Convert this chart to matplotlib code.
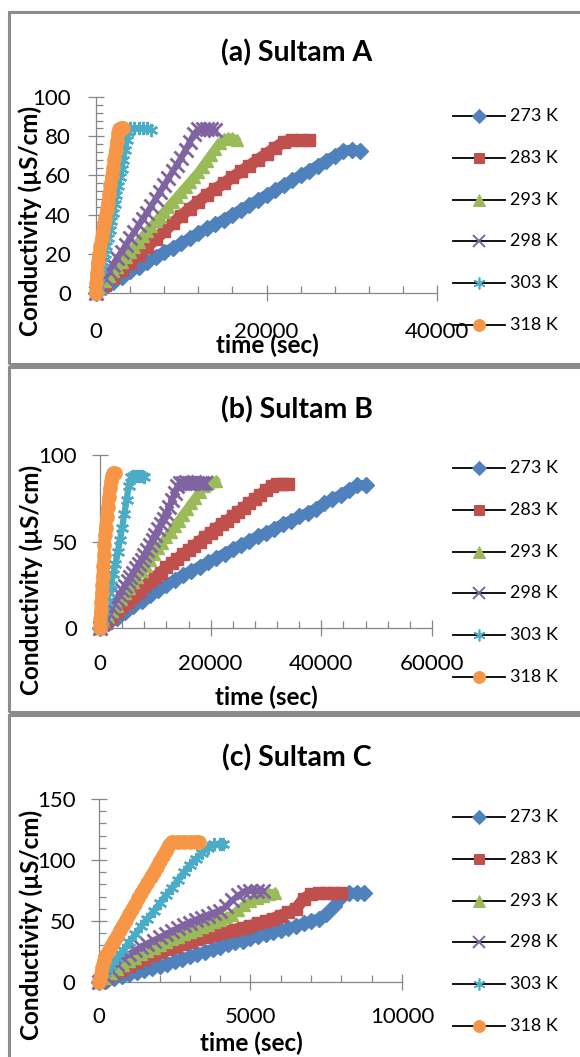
import matplotlib
matplotlib.use("Agg")
import matplotlib.pyplot as plt
from matplotlib.lines import Line2D
from matplotlib.patches import Rectangle
from matplotlib.ticker import MultipleLocator

plt.rcParams['font.family'] = ['Lato', 'DejaVu Sans']

labels = ['273 K', '283 K', '293 K', '298 K', '303 K', '318 K']

# (a) Sultam A
a273_t = [0, 1000, 2000, 3000, 4000, 5000, 6000, 7000, 8000, 9000, 10000, 11000, 12000, 13000, 14000, 15000,
          16000, 17000, 18000, 19000, 20000, 21000, 22000, 23000, 24000, 25000, 26000, 27000, 28000, 29000, 30000, 31000]
a273_c = [0, 3, 5.5, 8, 11, 13.5, 16, 18.5, 21, 23, 25.5, 28, 30.5, 33, 35, 37.5,
          40, 42.5, 45, 47.5, 50, 52.5, 55, 57.5, 60, 62.5, 65, 67.5, 70, 72.5, 73, 72.5]
a283_t = [0, 1000, 2000, 3000, 4000, 5000, 6000, 7000, 8000, 9000, 10000, 11000, 12000, 13000,
          14000, 15000, 16000, 17000, 18000, 19000, 20000, 21000, 22000, 23000, 24000, 25000]
a283_c = [0, 4, 8, 11.5, 15.5, 19.5, 23.5, 27.5, 31.5, 35.5, 39.5, 43, 46.5, 50,
          53, 56, 59, 62, 65, 68, 71, 74, 77, 78, 78, 78]
a293_t = [0, 500, 1000, 1500, 2000, 2500, 3000, 3500, 4000, 4500, 5000, 5500, 6000, 6500, 7000, 7500, 8000,
          8500, 9000, 9500, 10000, 10500, 11000, 11500, 12000, 12500, 13000, 13500, 14000, 14500, 15000, 15500, 16000, 16500]
a293_c = [0, 3, 6, 8.5, 11, 13.5, 16, 18.5, 21, 23.5, 26, 29, 31.5, 34, 36.5, 39, 41.5,
          44, 46.5, 49, 51.5, 54, 56.5, 59, 61.5, 64.5, 67.5, 70.5, 73.5, 76.5, 78.5, 79, 79, 78]
a298_t = [0, 500, 1000, 1500, 2000, 2500, 3000, 3500, 4000, 4500, 5000, 5500, 6000, 6500, 7000,
          7500, 8000, 8500, 9000, 9500, 10000, 10500, 11000, 11500, 12000, 12500, 13000, 13500, 14000]
a298_c = [0, 4, 7.5, 11, 14.5, 18, 21, 24.5, 28, 31, 34.5, 38, 41, 44.5, 48,
          51.5, 55, 58.5, 62, 65.5, 69, 73, 77, 81, 83.5, 83.5, 83.5, 83.5, 83]
a303_t = [0, 200, 400, 600, 800, 1000, 1200, 1400, 1600, 1800, 2000, 2200, 2400,
          2600, 2800, 3000, 3200, 3400, 3600, 3800, 4000, 4500, 5000, 5500, 6000, 6500]
a303_c = [0, 4, 8, 12, 16, 20, 24, 28, 32, 36.5, 41, 45.5, 50,
          54.5, 59, 63.5, 68, 73, 78, 82, 84, 84, 84, 84, 84, 83]
a318_t = [0, 0, 100, 200, 350, 500, 650, 800, 950, 1100, 1250, 1400, 1550, 1700, 1850, 2000,
          2150, 2300, 2450, 2600, 2750, 2900, 3050, 3200]
a318_c = [0, 5, 10, 16, 20, 24, 28, 31.5, 35, 38.5, 42.5, 46, 50.5, 55, 59.5, 64,
          68.5, 73, 77.5, 81.5, 83.5, 84, 84, 84]

# (b) Sultam B
b273_t = [0, 1500, 3000, 4500, 6000, 7500, 9000, 10500, 12000, 13500, 15000, 16500, 18000, 19500, 21000, 22500, 24000,
          25500, 27000, 28500, 30000, 31500, 33000, 34500, 36000, 37500, 39000, 40500, 42000, 43500, 45000, 46500, 48000]
b273_c = [0, 3, 6, 9.5, 12.5, 15.5, 19, 22, 25, 28, 30.5, 33, 35.5, 38, 40.5, 43, 45.5,
          48, 50.5, 53, 55, 57.5, 60, 62, 64.5, 66.5, 69, 72, 74.5, 77, 80, 82.5, 82.5]
b283_t = [0, 1000, 2000, 3000, 4000, 5000, 6000, 7000, 8000, 9000, 10000, 11000, 12000, 13000, 14000, 15000, 16000, 17000,
          18000, 19000, 20000, 21000, 22000, 23000, 24000, 25000, 26000, 27000, 28000, 29000, 30000, 31000, 32000, 33000, 34000]
b283_c = [0, 3, 6, 9, 12, 15, 18, 21, 24, 27, 29.5, 32, 35, 37.5, 40, 42.5, 45, 47.5,
          50, 52.5, 55, 57.5, 60, 62, 64.5, 67, 69.5, 72, 74.5, 77, 79.5, 82, 83, 83, 83]
b293_t = [0, 750, 1500, 2250, 3000, 3750, 4500, 5250, 6000, 6750, 7500, 8250, 9000, 9750, 10500,
          11250, 12000, 12750, 13500, 14250, 15000, 15750, 16500, 17250, 18000, 18750, 19500, 20250, 21000]
b293_c = [0, 3, 6.5, 10, 13, 16.5, 20, 23, 26.5, 29.5, 33, 36, 39.5, 42.5, 46,
          49, 52.5, 55.5, 59, 62, 65.5, 68.5, 72, 75, 78.5, 82, 84, 85, 85]
b298_t = [0, 500, 1000, 1500, 2000, 2500, 3000, 3500, 4000, 4500, 5000, 5500, 6000, 6500, 7000, 7500, 8000, 8500, 9000, 9500,
          10000, 10500, 11000, 11500, 12000, 12500, 13000, 13500, 14000, 14500, 15000, 15500, 16000, 16500, 17000, 17500,
          18000, 18500, 19000]
b298_c = [0, 3, 6, 9, 12, 14.5, 17, 19.5, 22, 24.5, 27, 29.5, 32, 34.5, 37, 39.5, 42, 45, 48, 51,
          54, 57, 60, 63, 66.5, 70, 74, 78, 82, 84, 84, 84.5, 84, 84, 84.5, 84,
          84, 84, 84]
b303_t = [0, 400, 800, 1200, 1600, 2000, 2400, 2800, 3200, 3600, 4000, 4400, 4800, 5200, 5600, 6000, 6500, 7000, 7500, 8000]
b303_c = [0, 5, 10, 15, 20, 25, 31, 37, 44, 51, 58, 66, 74, 82, 87, 88, 88, 88, 88, 87.5]
b318_t = [0, 0, 100, 200, 300, 400, 500, 600, 700, 800, 900, 1000, 1200, 1400, 1600, 1800, 2000, 2200, 2400, 2700]
b318_c = [0, 5, 10, 15, 20, 25, 30, 36, 42, 48, 54, 58, 64, 70, 76, 81, 85, 88, 89.5, 89.5]

# (c) Sultam C
c273_t = [0, 250, 500, 750, 1000, 1250, 1500, 1750, 2000, 2250, 2500, 2750, 3000, 3250, 3500, 3750, 4000, 4250,
          4500, 4750, 5000, 5250, 5500, 5750, 6000, 6250, 6500, 6750, 7000, 7250, 7500, 7750, 8000, 8250, 8500, 8750]
c273_c = [0, 1.5, 3, 5, 6.5, 8, 10, 11.5, 13, 15, 17, 19, 21, 23, 25, 27, 29, 31,
          32.5, 34, 36, 37.5, 39, 41, 42.5, 44, 46, 48, 50, 52, 56, 62, 70, 73, 73, 73]
c283_t = [0, 250, 500, 750, 1000, 1250, 1500, 1750, 2000, 2250, 2500, 2750, 3000, 3250, 3500, 3750, 4000,
          4250, 4500, 4750, 5000, 5250, 5500, 5750, 6000, 6250, 6500, 6750, 7000, 7250, 7500, 7750, 8000]
c283_c = [0, 3.5, 7, 10, 13, 16, 19, 22, 25, 27, 29, 31, 33, 35, 37, 38.5, 40,
          41.5, 43, 44.5, 46, 48, 50, 52, 54.5, 57, 60, 68, 72, 73, 73, 73, 73]
c293_t = [0, 200, 400, 600, 800, 1000, 1200, 1400, 1600, 1800, 2000, 2200, 2400, 2600, 2800,
          3000, 3200, 3400, 3600, 3800, 4000, 4200, 4400, 4600, 4800, 5000, 5200, 5400, 5600, 5800]
c293_c = [0, 3.5, 7, 10.5, 14, 17, 20, 23, 25.5, 28, 30.5, 32.5, 35, 37, 39,
          41, 43, 45, 47, 49, 51, 53, 55, 59, 63, 66, 68.5, 70.5, 72, 73]
c298_t = [0, 200, 400, 600, 800, 1000, 1200, 1400, 1600, 1800, 2000, 2200, 2400, 2600,
          2800, 3000, 3200, 3400, 3600, 3800, 4000, 4200, 4400, 4600, 4800, 5000, 5200, 5400]
c298_c = [0, 5, 10, 15, 19.5, 23, 26, 29, 31.5, 34, 36.5, 39, 41.5, 44,
          46.5, 48.5, 50.5, 52.5, 54.5, 56.5, 58, 62, 67, 71, 74, 75, 75, 75]
c303_t = [0, 200, 400, 600, 800, 1000, 1200, 1400, 1600, 1800, 2000,
          2200, 2400, 2600, 2800, 3000, 3200, 3400, 3600, 3800, 4000, 4100]
c303_c = [0, 7, 13, 20, 26, 33, 39, 46, 52, 58, 64.5,
          71, 77, 83.5, 90, 96, 101, 106, 110, 113, 113, 113]
c318_t = [0, 50, 100, 150, 200, 300, 400, 500, 600, 700, 800, 900, 1000, 1100, 1200, 1300,
          1400, 1500, 1600, 1700, 1800, 1900, 2000, 2100, 2200, 2300, 2400, 2600, 2800, 3000, 3200, 3300]
c318_c = [0, 6, 12, 17, 21, 25, 29.5, 34, 38, 42.5, 47, 51, 55.5, 60, 64, 68.5,
          73, 77, 81.5, 86, 90, 94.5, 99, 103, 107.5, 112, 115, 115, 115, 115, 115, 115]

colors = ['#4F81BD', '#C0504D', '#9BBB59', '#8064A2', '#4BACC6', '#F79646']
markers = ['D', 's', '^', 'x', (6, 2, 0), 'o']
msizes = [8, 8, 9, 9.5, 9.5, 9.5]
medges = [1, 1, 1, 2, 1.7, 1]
# the readings are so close together in the original that the markers merge into a band
band_w = [7.5, 8.5, 6.5, 4.5, 4.5, 9]

W, H = 580, 1057


def fx(px):
    return px / W


def fy(py):
    return 1 - py / H


panels = [
    dict(title='(a) Sultam A', series=[(a273_t, a273_c), (a283_t, a283_c), (a293_t, a293_c),
                                       (a298_t, a298_c), (a303_t, a303_c), (a318_t, a318_c)],
         box=(96, 97, 437, 293), xmax=40000, xmaj=20000, xmin=4000, ymax=100, ymaj=20, ymin=4,
         ypad=12.5, xpad=15.5, frame=(12, 364), title_y=53, ylab=(30, 221), xlab=(267, 345), leg_y=116),
    dict(title='(b) Sultam B', series=[(b273_t, b273_c), (b283_t, b283_c), (b293_t, b293_c),
                                       (b298_t, b298_c), (b303_t, b303_c), (b318_t, b318_c)],
         box=(100, 455, 432, 628), xmax=60000, xmaj=20000, xmin=4000, ymax=100, ymaj=50, ymin=None,
         ypad=11, xpad=13.5, frame=(367, 712), title_y=410, ylab=(31, 580), xlab=(266, 697), leg_y=468),
    dict(title='(c) Sultam C', series=[(c273_t, c273_c), (c283_t, c283_c), (c293_t, c293_c),
                                       (c298_t, c298_c), (c303_t, c303_c), (c318_t, c318_c)],
         box=(99, 799, 402, 982), xmax=10000, xmaj=5000, xmin=1000, ymax=150, ymaj=50, ymin=10,
         ypad=11.5, xpad=12.5, frame=(715, 1075), title_y=758, ylab=(31, 925), xlab=(251, 1043), leg_y=817),
]

fig = plt.figure(figsize=(5.8, 10.57), dpi=100)
axis_grey = '#868686'

for p in panels:
    # grey frame round each chart
    top, bot = p['frame']
    fig.add_artist(Rectangle((fx(9), fy(bot)), fx(620) - fx(9), fy(top) - fy(bot),
                             transform=fig.transFigure, fill=False, ec='#8c8c8c', lw=2.2))

    l, t, r, b = p['box']
    ax = fig.add_axes([fx(l), fy(b), fx(r) - fx(l), fy(t) - fy(b)])
    for k, ((xs, ys), col, mk, ms, mew) in enumerate(zip(p['series'], colors, markers, msizes, medges)):
        ax.plot(xs, ys, color=col, lw=band_w[k], solid_capstyle='round', solid_joinstyle='round',
                clip_on=False, zorder=3 + k)
        ax.plot(xs, ys, ls='none', marker=mk, ms=ms, mfc=col, mec=col, mew=mew,
                clip_on=False, zorder=3 + k)

    ax.set_xlim(0, p['xmax'])
    ax.set_ylim(0, p['ymax'])
    ax.xaxis.set_major_locator(MultipleLocator(p['xmaj']))
    ax.xaxis.set_minor_locator(MultipleLocator(p['xmin']))
    ax.yaxis.set_major_locator(MultipleLocator(p['ymaj']))
    if p['ymin']:
        ax.yaxis.set_minor_locator(MultipleLocator(p['ymin']))
    for s in ['top', 'right']:
        ax.spines[s].set_visible(False)
    for s in ['left', 'bottom']:
        ax.spines[s].set_color(axis_grey)
        ax.spines[s].set_linewidth(0.9)
    ax.tick_params(which='major', direction='inout', length=11, width=0.9, color=axis_grey, labelsize=16)
    ax.tick_params(which='minor', direction='in', length=5, width=0.9, color=axis_grey)
    ax.tick_params(axis='y', which='major', pad=p['ypad'])
    ax.tick_params(axis='x', which='major', pad=p['xpad'])
    ax.patch.set_visible(False)

    fig.text(fx(297), fy(p['title_y']), p['title'], ha='center', va='center', fontsize=20.5, fontweight='bold')
    fig.text(fx(p['ylab'][0]), fy(p['ylab'][1]), 'Conductivity (µS/cm)', rotation=90,
             ha='center', va='center', fontsize=17.5, fontweight='bold')
    fig.text(fx(p['xlab'][0]), fy(p['xlab'][1]), 'time (sec)', ha='center', va='center',
             fontsize=17.5, fontweight='bold')

    # legend drawn by hand, Excel style
    for i, (lab, col, mk, ms, mew) in enumerate(zip(labels, colors, markers, msizes, medges)):
        yy = fy(p['leg_y'] + 41.8 * i)
        fig.add_artist(Line2D([fx(453), fx(479), fx(505)], [yy, yy, yy], transform=fig.transFigure,
                              color='black', lw=1.3, marker=mk, markevery=[1], ms=ms * 0.9, mfc=col, mec=col,
                              mew=mew * 0.7))
        fig.text(fx(510), yy, lab, ha='left', va='center', fontsize=13)

fig.savefig('out.png', dpi=100)
